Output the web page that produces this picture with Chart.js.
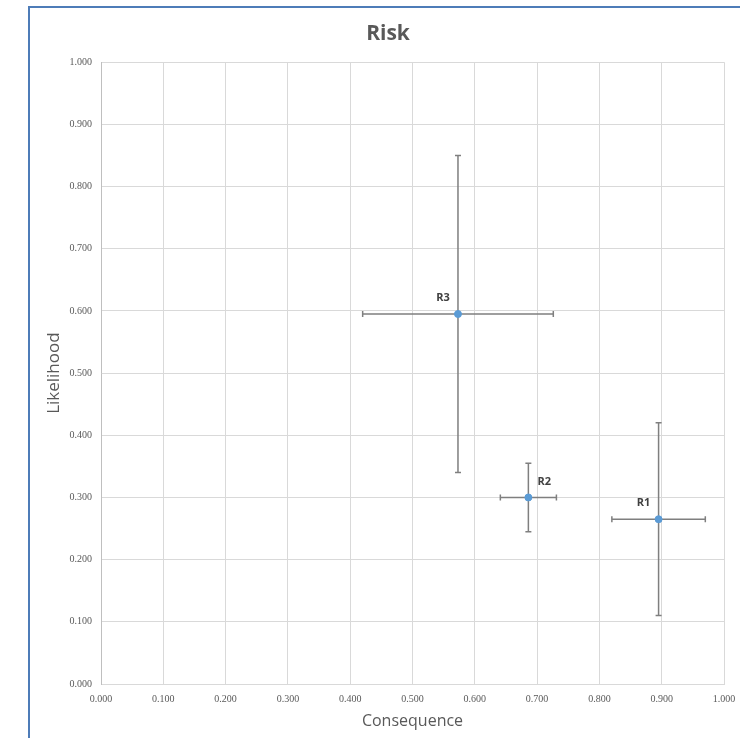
<!DOCTYPE html>
<html>
<head>
<meta charset="utf-8">
<script src="https://cdn.jsdelivr.net/npm/chart.js@4.4.1/dist/chart.umd.min.js"></script>
<style>
  html,body{margin:0;padding:0;background:#fff;overflow:hidden}
  #frame{position:absolute;left:28px;top:6px;width:760px;height:780px;border:2px solid #4e7cb8;box-sizing:border-box}
  #wrap{position:absolute;left:0;top:0;width:740px;height:738px}
</style>
</head>
<body>
<div id="frame"></div>
<div id="wrap"><canvas id="risk" width="740" height="738"></canvas></div>
<script>
  // risk points: consequence (x), likelihood (y), +/- spread
  const riskNames = ['R1','R2','R3'];
  const consequence = [0.895, 0.686, 0.573];
  const likelihood = [0.265, 0.300, 0.595];
  const consequenceErr = [0.075, 0.045, 0.153];
  const likelihoodErr = [0.155, 0.055, 0.255];
  const axisTicks = [0,0.1,0.2,0.3,0.4,0.5,0.6,0.7,0.8,0.9,1.0];

  // label placement per point (style only)
  const labelSide = ['left','right','left'];

  const GRID = '#d9d9d9', TXT = '#595959';

  const errorBars = {
    id:'errorBars',
    afterLayout(chart){
      // excel centres the title on the whole chart box, not the padded area
      const t = chart.titleBlock;
      if (t) { t.left += 11; t.right += 11; }
    },
    beforeDatasetsDraw(chart){
      const {ctx, scales:{x,y}} = chart;
      const cap = 3;
      ctx.save();
      ctx.strokeStyle = '#7f7f7f';
      ctx.lineWidth = 1.5;
      consequence.forEach((cx,i)=>{
        const px = x.getPixelForValue(cx), py = y.getPixelForValue(likelihood[i]);
        const x0 = x.getPixelForValue(cx-consequenceErr[i]), x1 = x.getPixelForValue(cx+consequenceErr[i]);
        const y0 = y.getPixelForValue(likelihood[i]-likelihoodErr[i]), y1 = y.getPixelForValue(likelihood[i]+likelihoodErr[i]);
        ctx.beginPath();
        ctx.moveTo(x0,py); ctx.lineTo(x1,py);
        ctx.moveTo(x0,py-cap); ctx.lineTo(x0,py+cap);
        ctx.moveTo(x1,py-cap); ctx.lineTo(x1,py+cap);
        ctx.moveTo(px,y0); ctx.lineTo(px,y1);
        ctx.moveTo(px-cap,y0); ctx.lineTo(px+cap,y0);
        ctx.moveTo(px-cap,y1); ctx.lineTo(px+cap,y1);
        ctx.stroke();
      });
      ctx.restore();
    },
    afterDatasetsDraw(chart){
      const {ctx, scales:{x,y}} = chart;
      ctx.save();
      ctx.font = 'bold 11px "Open Sans"';
      ctx.fillStyle = '#404040';
      ctx.textAlign = 'center';
      ctx.textBaseline = 'middle';
      riskNames.forEach((n,i)=>{
        const px = x.getPixelForValue(consequence[i]), py = y.getPixelForValue(likelihood[i]);
        const dx = labelSide[i]==='left' ? -15 : 16;
        ctx.fillText(n, px+dx, py-16);
      });
      ctx.restore();
    }
  };

  const tickFont = {family:'"Liberation Serif"', size:10};

  new Chart(document.getElementById('risk'), {
    type:'scatter',
    data:{
      datasets:[{
        label:'Risk',
        data: consequence.map((c,i)=>({x:c, y:likelihood[i]})),
        backgroundColor:'#5b9bd5',
        borderColor:'#5b9bd5',
        pointRadius:3.5,
        pointHoverRadius:3.5
      }]
    },
    options:{
      responsive:false,
      animation:false,
      events:[],
      layout:{padding:{left:30, right:16, top:0, bottom:0}},
      plugins:{
        legend:{display:false},
        tooltip:{enabled:false},
        title:{display:true, text:'Risk', color:TXT,
          font:{family:'"Open Sans"', size:21, weight:'bold', lineHeight:1.2},
          padding:{top:21, bottom:16}}
      },
      scales:{
        x:{
          type:'linear', min:0, max:1,
          afterBuildTicks: s => { s.ticks = axisTicks.map(v=>({value:v})); },
          afterFit: s => { s.height = 54; s.paddingLeft = 0; s.paddingRight = 0; },
          grid:{color:GRID, drawTicks:false},
          border:{color:GRID},
          ticks:{color:TXT, font:tickFont, padding:9, maxRotation:0, autoSkip:false,
            callback: v => Number(v).toFixed(3)},
          title:{display:true, text:'Consequence', color:TXT,
            font:{family:'"Open Sans"', size:16}, padding:{top:0, bottom:7}}
        },
        y:{
          type:'linear', min:0, max:1,
          afterBuildTicks: s => { s.ticks = axisTicks.map(v=>({value:v})); },
          afterFit: s => { s.width = 71; s.paddingTop = 0; s.paddingBottom = 0; },
          grid:{color:GRID, drawTicks:false},
          border:{color:'#bfbfbf'},
          ticks:{color:TXT, font:tickFont, padding:9, autoSkip:false,
            callback: v => Number(v).toFixed(3)},
          title:{display:true, text:'Likelihood', color:TXT,
            font:{family:'"Open Sans"', size:17}, padding:{top:14, bottom:0}}
        }
      }
    },
    plugins:[errorBars]
  });
</script>
</body>
</html>
